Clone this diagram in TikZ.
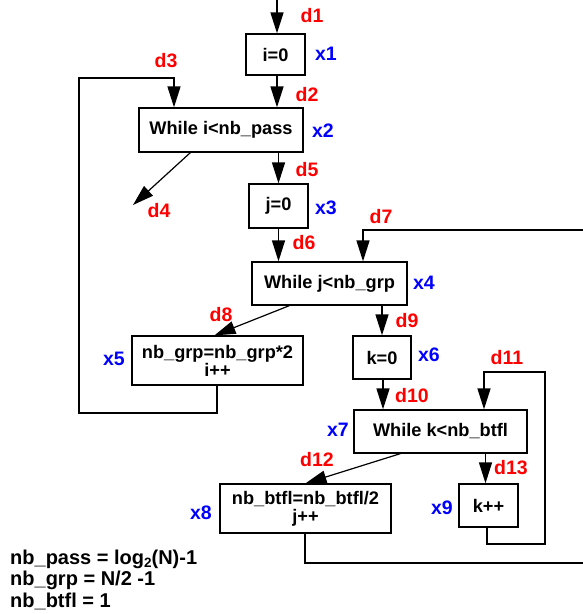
\documentclass[tikz,border=0pt]{standalone}
\usepackage{fontspec}
\setmainfont{Liberation Sans}
\usetikzlibrary{arrows.meta,calc}
\begin{document}
\begin{tikzpicture}[x=1pt,y=-1pt,
  box/.style={draw, line width=1.3pt, inner sep=0pt, align=center,
    font=\fontsize{18.2}{18}\selectfont\bfseries},
  lab/.style={font=\fontsize{19.5}{20}\selectfont\bfseries, inner sep=0pt},
  dlab/.style={lab, text=red},
  xlab/.style={lab, text=blue},
  wire/.style={line width=1.4pt},
  arr/.style={wire, -{Triangle[length=21pt,width=13pt]}},
  darr/.style={line width=1.2pt, -{Triangle[length=21pt,width=13pt]}}]
\useasboundingbox (0,0) rectangle (583,614);

% boxes
\node[box, minimum width=59, minimum height=41] (x1) at (275.5,54.5) {i=0};
\node[box, minimum width=164, minimum height=44] (x2) at (221,130) {While i<nb\_pass};
\node[box, minimum width=59, minimum height=44] (x3) at (278.5,206) {j=0};
\node[box, minimum width=155, minimum height=43] (x4) at (329.5,283.5) {While j<nb\_grp};
\node[box, minimum width=171, minimum height=49] (x5) at (217.5,360.5) {nb\_grp=nb\_grp*2\\i++};
\node[box, minimum width=58, minimum height=43] (x6) at (382,357.5) {k=0};
\node[box, minimum width=173, minimum height=43] (x7) at (440.5,431.5) {While k<nb\_btfl};
\node[box, minimum width=171, minimum height=49] (x8) at (305.5,508.5) {nb\_btfl=nb\_btfl/2\\j++};
\node[box, minimum width=59, minimum height=43] (x9) at (488.5,505.5) {k++};

% block names
\node[xlab] (lx1) at (326,54) {x1};
\node[xlab] (lx2) at (323,131) {x2};
\node[xlab] (lx3) at (326,208) {x3};
\node[xlab] (lx4) at (424,283) {x4};
\node[xlab] (lx5) at (114,359) {x5};
\node[xlab] (lx6) at (429,355) {x6};
\node[xlab] (lx7) at (338,430) {x7};
\node[xlab] (lx8) at (201,513) {x8};
\node[xlab] (lx9) at (442,508) {x9};

% edge names
\node[dlab] (d1) at (312,16) {d1};
\node[dlab] (d2) at (307,95) {d2};
\node[dlab] (d3) at (166,61) {d3};
\node[dlab] (d4) at (159,211) {d4};
\node[dlab] (d5) at (307,170) {d5};
\node[dlab] (d6) at (304,243) {d6};
\node[dlab] (d7) at (381,217) {d7};
\node[dlab] (d8) at (221,315) {d8};
\node[dlab] (d9) at (407,321) {d9};
\node[dlab] (d10) at (412,396) {d10};
\node[dlab] (d11) at (507,358) {d11};
\node[dlab] (d12) at (317,460) {d12};
\node[dlab] (d13) at (511,468) {d13};

% free ends and bends
\coordinate (start) at (277,0);
\coordinate (exit) at (133,205);
\coordinate (la) at (79,413);
\coordinate (lb) at (174,78);
\coordinate (ra) at (590,563);
\coordinate (rb) at (363,230);
\coordinate (ka) at (545,544);
\coordinate (kb) at (484,372);

% straight edges
\draw[arr] (start) -- (start |- x1.north);
\draw[arr] (x1.south -| start) -- (start |- x2.north);
\draw[arr] (x2.south -| x3.north) -- (x3.north);
\draw[darr] ($(x2.south west)+(52,0)$) -- (exit);
\draw[arr] (x3.south -| x3.north) -- (x3.south |- x4.north);
\draw[darr] ($(x4.south west)+(38,0)$) -- ([xshift=-3pt]x5.north);
\draw[arr] (x4.south -| x6.north) -- (x6.north);
\draw[arr] ([xshift=1pt]x6.south) -- ([xshift=1pt]x6.south |- x7.north);
\draw[darr] ($(x7.south west)+(47,0)$) -- (x8.north);
\draw[arr] ([xshift=-3pt]x7.south -| x9.north) -- ([xshift=-3pt]x9.north);

% loop-back edges
\draw[arr] ([xshift=-0.5pt]x5.south) |- (la) |- (lb) -- (lb |- x2.north);
\draw[arr] ([xshift=-0.5pt]x8.south) |- (ra) |- (rb) -- (rb |- x4.north);
\draw[arr] ([xshift=-1.5pt]x9.south) |- (ka) |- (kb) -- (kb |- x7.north);

% definitions (base anchor sits on the last line)
\node[anchor=base west, align=left, inner sep=0pt,
  font=\fontsize{20}{21.5}\selectfont\bfseries] (defs) at (10,607)
  {nb\_pass = log\raisebox{-0.3ex}{\fontsize{13.5}{13.5}\selectfont 2}(N)-1\\
   nb\_grp = N/2 -1\\
   nb\_btfl = 1};
\end{tikzpicture}
\end{document}
